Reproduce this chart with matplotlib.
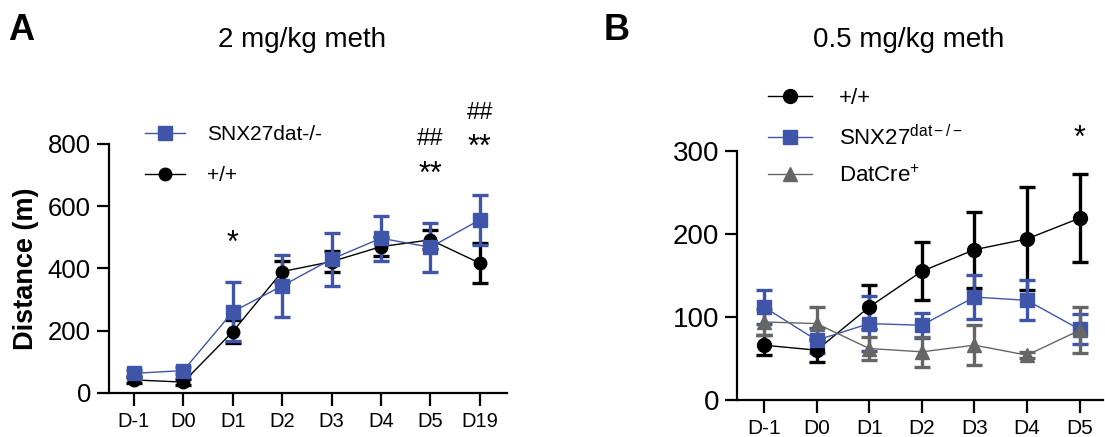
import matplotlib
matplotlib.use("Agg")
import matplotlib.pyplot as plt
import numpy as np

plt.rcParams['font.family'] = ['Liberation Sans', 'DejaVu Sans']
plt.rcParams['mathtext.fontset'] = 'custom'
plt.rcParams['mathtext.rm'] = 'Liberation Sans'
plt.rcParams['mathtext.it'] = 'Liberation Sans'

# panel A: 2 mg/kg
days_a = ["D-1", "D0", "D1", "D2", "D3", "D4", "D5", "D19"]
snx_a = [63, 72, 261, 344, 430, 497, 468, 556]
snx_a_err = [10, 10, 95, 100, 85, 72, 79, 80]
wt_a = [42, 35, 197, 390, 422, 470, 492, 417]
wt_a_err = [10, 10, 38, 35, 35, 30, 30, 65]

# panel B: 0.5 mg/kg
days_b = ["D-1", "D0", "D1", "D2", "D3", "D4", "D5"]
wt_b = [66, 60, 112, 155, 181, 194, 219]
wt_b_err = [12, 14, 27, 35, 46, 62, 53]
snx_b = [112, 72, 92, 90, 124, 120, 85]
snx_b_err = [20, 15, 33, 15, 26, 24, 18]
cre_b = [94, 92, 62, 58, 66, 54, 84]
cre_b_err = [16, 20, 14, 18, 24, 4, 28]

BLUE = "#3f55a9"
BLACK = "#000000"
GRAY = "#666666"


def series(ax, y, err, color, marker, ms):
    x = np.arange(len(y))
    c = ax.errorbar(x, y, yerr=err, color=color, marker=marker, markersize=ms,
                    linewidth=1.0, elinewidth=2.4, capsize=5.5, capthick=2.4,
                    clip_on=False, zorder=3)
    return c[0]   # data line, used as legend handle (no error bar glyph)


def style_axes(ax, labels, xt_size, yt_size):
    for s in ('top', 'right'):
        ax.spines[s].set_visible(False)
    for s in ('left', 'bottom'):
        ax.spines[s].set_linewidth(1.6)
    ax.set_xticks(np.arange(len(labels)))
    ax.set_xticklabels(labels)
    ax.tick_params(axis='x', length=9, width=1.6, pad=5, labelsize=xt_size)
    ax.tick_params(axis='y', length=9, width=1.6, pad=4, labelsize=yt_size)


fig = plt.figure(figsize=(11.05, 4.37), dpi=100)

# ---- A ----
axa = fig.add_axes([0.0986, 0.1007, 0.360, 0.570])
h_wt = series(axa, wt_a, wt_a_err, BLACK, 'o', 9)
h_snx = series(axa, snx_a, snx_a_err, BLUE, 's', 10)
axa.set_ylim(0, 800)
axa.set_yticks([0, 200, 400, 600, 800])
axa.set_xlim(-0.506, 7.546)
style_axes(axa, days_a, 14.5, 18.5)
axa.set_ylabel("Distance (m)", fontsize=19.5, fontweight='bold', labelpad=6)
axa.legend([h_snx, h_wt], ["SNX27dat-/-", "+/+"], loc='upper left',
           bbox_to_anchor=(145 / 1105, 1 - 125 / 437),
           bbox_transform=fig.transFigure, frameon=False, fontsize=15,
           handlelength=1.9, handletextpad=1.1, labelspacing=1.05, borderpad=0,
           borderaxespad=0)
# significance marks
axa.text(2, 478, "*", ha='center', va='center', fontsize=22)
axa.text(6, 700, "**", ha='center', va='center', fontsize=22)
axa.text(6, 815, "##", ha='center', va='center', fontsize=17)
axa.text(7, 787, "**", ha='center', va='center', fontsize=22)
axa.text(7, 900, "##", ha='center', va='center', fontsize=17)
fig.text(302 / 1105, 1 - 40 / 437, "2 mg/kg meth", ha='center', va='center', fontsize=20)
fig.text(8 / 1105, 1 - 30 / 437, "A", ha='left', va='center', fontsize=26, fontweight='bold')

# ---- B ----
axb = fig.add_axes([0.667, 0.0847, 0.331, 0.570])
h_wt = series(axb, wt_b, wt_b_err, BLACK, 'o', 10)
h_snx = series(axb, snx_b, snx_b_err, BLUE, 's', 10)
h_cre = series(axb, cre_b, cre_b_err, GRAY, '^', 9.5)
axb.set_ylim(0, 300)
axb.set_yticks([0, 100, 200, 300])
axb.set_xlim(-0.513, 6.44)
style_axes(axb, days_b, 15, 20)
axb.legend([h_wt, h_snx, h_cre], ["+/+", "SNX27$^{dat-/-}$", "DatCre$^{+}$"],
           loc='upper left', bbox_to_anchor=(768 / 1105, 1 - 88 / 437),
           bbox_transform=fig.transFigure, frameon=False, fontsize=16,
           handlelength=2.0, handletextpad=1.2, labelspacing=0.7, borderpad=0,
           borderaxespad=0)
axb.text(6, 314, "*", ha='center', va='center', fontsize=22)
fig.text(909 / 1105, 1 - 40 / 437, "0.5 mg/kg meth", ha='center', va='center', fontsize=20)
fig.text(604 / 1105, 1 - 30 / 437, "B", ha='left', va='center', fontsize=26, fontweight='bold')

fig.savefig("out.png", dpi=100)
